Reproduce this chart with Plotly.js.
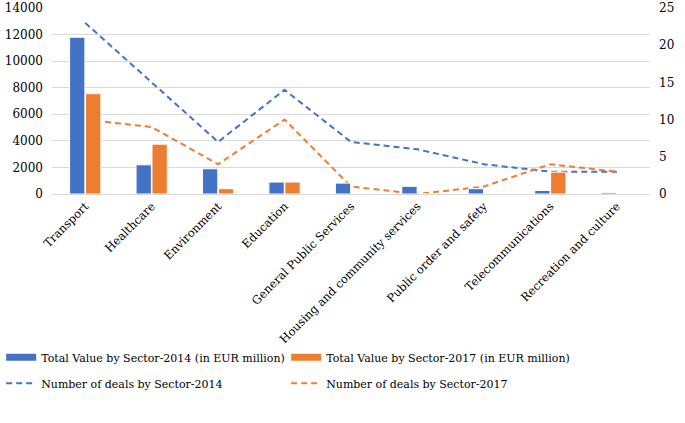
<!DOCTYPE html>
<html>
<head>
<meta charset="utf-8">
<script src="https://cdn.plot.ly/plotly-3.0.1.min.js"></script>
<style>html,body{margin:0;padding:0;background:#fff}#chart{width:685px;height:423px}</style>
</head>
<body>
<div id="chart"></div>
<script>
const sectors = ["Transport","Healthcare","Environment","Education","General Public Services","Housing and community services","Public order and safety","Telecommunications","Recreation and culture"];
const value2014 = [11800, 2200, 1900, 900, 820, 580, 400, 270, 100];
const value2017 = [7550, 3750, 400, 900, 0, 0, 50, 1650, 0];
const deals2014 = [23, 15, 7, 14, 7, 6, 4, 3, 3];
const deals2017 = [10, 9, 4, 10, 1, 0, 1, 4, 3];

const blue = "#4472C4", orange = "#ED7D31";
const font = "DejaVu Serif";

const traces = [
  {type:"scatter", mode:"lines", x:sectors, y:deals2014, yaxis:"y", name:"Number of deals by Sector-2014",
   line:{color:blue, width:2, dash:"6px,4px"}, legend:"legend2"},
  {type:"scatter", mode:"lines", x:sectors, y:deals2017, yaxis:"y", name:"Number of deals by Sector-2017",
   line:{color:orange, width:2, dash:"6px,4px"}, legend:"legend2"},
  {type:"bar", x:sectors, y:value2014, yaxis:"y2", name:"Total Value by Sector-2014 (in EUR million)",
   marker:{color:blue, line:{color:"#fff", width:1}}, showlegend:false},
  {type:"bar", x:sectors, y:value2017, yaxis:"y2", name:"Total Value by Sector-2017 (in EUR million)",
   marker:{color:orange, line:{color:"#fff", width:1}}, showlegend:false},
  {type:"scatter", mode:"lines", x:[null], y:[null], yaxis:"y2", name:"Total Value by Sector-2014 (in EUR million)",
   line:{color:blue, width:7}, legend:"legend", hoverinfo:"skip"},
  {type:"scatter", mode:"lines", x:[null], y:[null], yaxis:"y2", name:"Total Value by Sector-2017 (in EUR million)",
   line:{color:orange, width:7}, legend:"legend", hoverinfo:"skip"}
];

const legendBase = {orientation:"h", x:-0.085, xanchor:"left", yanchor:"top", entrywidth:240, entrywidthmode:"pixels",
  bgcolor:"rgba(0,0,0,0)", font:{size:11, family:font, color:"#000"}, traceorder:"normal", itemwidth:30};

const layout = {
  width:685, height:423,
  margin:{l:52, r:35, t:8, b:229, autoexpand:false},
  paper_bgcolor:"#fff", plot_bgcolor:"#fff",
  font:{family:font, size:12, color:"#000"},
  barmode:"group", bargap:0.52, bargroupgap:0.04,
  xaxis:{tickangle:-45, tickfont:{size:11.5, family:font}, showgrid:false, showline:true, linecolor:"#d9d9d9", ticks:"", automargin:false},
  yaxis:{side:"right", range:[0,25], dtick:5, showgrid:false, zeroline:false, tickfont:{size:12, family:font}, ticks:"",
         ticklabelstandoff:8, automargin:false},
  yaxis2:{side:"left", overlaying:"y", range:[0,14000], dtick:2000, tickformat:"d", showgrid:true, gridcolor:"#d9d9d9", gridwidth:1,
          zeroline:false, tickfont:{size:12, family:font}, ticks:"", ticklabelstandoff:8, automargin:false},
  showlegend:true,
  legend:Object.assign({}, legendBase, {y:-0.8}),
  legend2:Object.assign({}, legendBase, {y:-0.94})
};

Plotly.newPlot("chart", traces, layout, {displayModeBar:false, staticPlot:true});
</script>
</body>
</html>
